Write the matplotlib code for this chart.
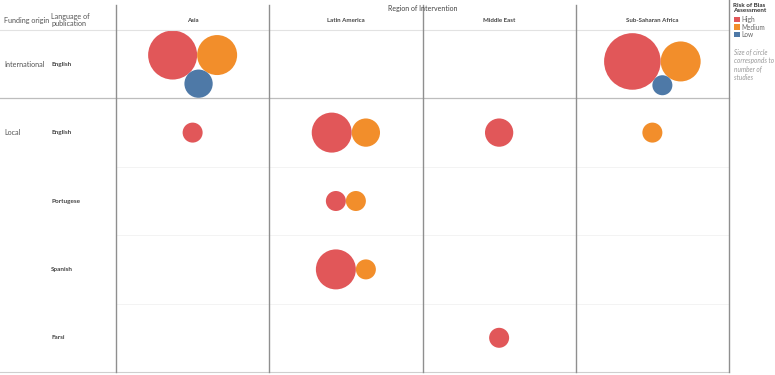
import numpy as np
import matplotlib
matplotlib.use("Agg")
import matplotlib.pyplot as plt
from matplotlib.patches import Circle, Rectangle

plt.rcParams["font.family"] = ["Lato", "DejaVu Sans"]

regions = ["Asia", "Latin America", "Middle East", "Sub-Saharan Africa"]
funding = ["International", "Local", "", "", ""]
languages = ["English", "English", "Portugese", "Spanish", "Farsi"]
risk_levels = ["High", "Medium", "Low"]
risk_colors = ["#E15759", "#F28E2B", "#4E79A7"]

# number of studies per row (language) x region
high = [[6, 0, 0, 8],
        [1, 4, 2, 0],
        [0, 1, 0, 0],
        [0, 4, 0, 0],
        [0, 0, 1, 0]]
medium = [[4, 0, 0, 4],
          [0, 2, 0, 1],
          [0, 1, 0, 0],
          [0, 1, 0, 0],
          [0, 0, 0, 0]]
low = [[2, 0, 0, 1],
       [0, 0, 0, 0],
       [0, 0, 0, 0],
       [0, 0, 0, 0],
       [0, 0, 0, 0]]

W, H = 775, 375
left, right = 116, 729
top, bottom = 30, 372
col_w = (right - left) / len(regions)
row_h = (bottom - top) / len(languages)
unit_r = 10  # radius in px of a one-study circle


def pack(radii):
    # simple packed-bubble layout: first circle, second to its right, third below both
    pos = [(0.0, 0.0)]
    if len(radii) > 1:
        pos.append((radii[0] + radii[1], 0.0))
    if len(radii) > 2:
        d = radii[0] + radii[1]
        a = radii[0] + radii[2]
        b = radii[1] + radii[2]
        x = (a * a - b * b + d * d) / (2 * d)
        pos.append((x, np.sqrt(a * a - x * x)))
    xs = [p[0] for p in pos]
    ys = [p[1] for p in pos]
    cx = (min(x - r for x, r in zip(xs, radii)) + max(x + r for x, r in zip(xs, radii))) / 2
    cy = (min(y - r for y, r in zip(ys, radii)) + max(y + r for y, r in zip(ys, radii))) / 2
    return [(x - cx, y - cy) for x, y in pos]


fig = plt.figure(figsize=(W / 100, H / 100), dpi=100)
ax = fig.add_axes([0, 0, 1, 1])
ax.set_xlim(0, W)
ax.set_ylim(H, 0)
ax.axis("off")

# grid lines
ax.plot([0, right], [top, top], color="#e2e2e2", lw=0.8)
ax.plot([0, right], [top + row_h, top + row_h], color="#bdbdbd", lw=0.9)
for i in range(2, len(languages)):
    y = top + i * row_h
    ax.plot([left, right], [y, y], color="#f3f3f3", lw=0.7)
ax.plot([0, right], [bottom, bottom], color="#cfcfcf", lw=0.8)
for i in range(len(regions) + 1):
    x = left + i * col_w
    ax.plot([x, x], [5 if i < len(regions) else 0, bottom], color="#8f8f8f", lw=1.0)

# headers
ax.text((left + right) / 2, 9, "Region of Intervention", ha="center", va="center",
        fontsize=5.0, color="#444444")
for j, reg in enumerate(regions):
    ax.text(left + (j + 0.5) * col_w, 21, reg, ha="center", va="center",
            fontsize=4.4, fontweight="bold", color="#444444")
ax.text(4, 21, "Funding origin", ha="left", va="center", fontsize=5.2, color="#555555")
ax.text(51, 20, "Language of\npublication", ha="left", va="center", fontsize=5.2,
        color="#555555", linespacing=1.1)

for i, lang in enumerate(languages):
    y = top + (i + 0.5) * row_h
    if funding[i]:
        ax.text(4, y, funding[i], ha="left", va="center", fontsize=5.2, color="#555555")
    ax.text(51, y, lang, ha="left", va="center", fontsize=4.6, fontweight="bold",
            color="#444444")

# bubbles
for i in range(len(languages)):
    for j in range(len(regions)):
        counts = [high[i][j], medium[i][j], low[i][j]]
        items = [(unit_r * np.sqrt(c), col) for c, col in zip(counts, risk_colors) if c > 0]
        if not items:
            continue
        radii = [r for r, _ in items]
        offs = pack(radii)
        cx = left + (j + 0.5) * col_w
        cy = top + (i + 0.5) * row_h
        for (dx, dy), (r, col) in zip(offs, items):
            ax.add_patch(Circle((cx + dx, cy + dy), r, facecolor=col, edgecolor="none"))

# legend
ax.text(733, 8, "Risk of Bias\nAssessment", ha="left", va="center", fontsize=4.5,
        fontweight="bold", color="#333333", linespacing=1.2)
for k, (lvl, col) in enumerate(zip(risk_levels, risk_colors)):
    y = 19.5 + k * 7.5
    ax.add_patch(Rectangle((734, y - 2.8), 5.5, 5.5, facecolor=col, edgecolor="none"))
    ax.text(741, y, lvl, ha="left", va="center", fontsize=4.7, color="#666666")
ax.text(734, 48, "Size of circle\ncorresponds to\nnumber of\nstudies", ha="left", va="top",
        fontsize=4.7, style="italic", color="#999999", linespacing=1.3)

fig.savefig("out.png", dpi=100)
